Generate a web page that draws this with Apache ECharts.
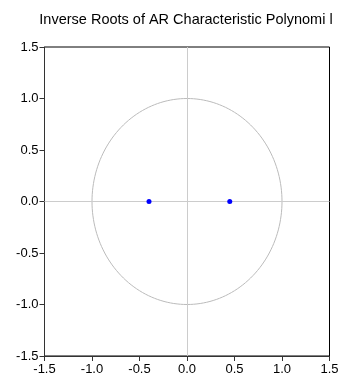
<!DOCTYPE html>
<html>
<head>
<meta charset="utf-8">
<script src="https://cdn.jsdelivr.net/npm/echarts@6/dist/echarts.min.js"></script>
<style>
  html, body {margin: 0; padding: 0; background: #fff;}
  #chart {width: 344px; height: 384px;}
</style>
</head>
<body>
<div id="chart"></div>
<script>
const titleText = 'Inverse Roots of AR Characteristic Polynomi l'
const rootsRe = [-0.40, 0.45]
const rootsIm = [0, 0]
const axisTicks = [-1.5, -1.0, -0.5, 0.0, 0.5, 1.0, 1.5]

// unit circle for reference
const circle = []
for (let i = 0; i <= 180; i++) {
  const a = i / 180 * Math.PI * 2
  circle.push([Math.cos(a), Math.sin(a)])
}

const labelStyle = {
  fontFamily: 'Liberation Sans',
  fontSize: 13,
  color: '#000',
  formatter: v => v.toFixed(1),
}

const chart = echarts.init(document.getElementById('chart'))
chart.setOption({
  animation: false,
  title: {
    text: titleText,
    left: 181,
    textAlign: 'center',
    top: 7,
    textStyle: {fontFamily: 'Liberation Sans', fontSize: 14.5, fontWeight: 'normal', color: '#000'},
  },
  grid: {left: 44.5, right: 14.5, top: 47, bottom: 28, show: true, borderColor: '#000', borderWidth: 1},
  xAxis: {
    type: 'value', min: axisTicks[0], max: axisTicks[axisTicks.length - 1], interval: 0.5,
    axisLine: {show: true, onZero: false, lineStyle: {color: '#333'}},
    axisTick: {show: true, length: 5, lineStyle: {color: '#333'}},
    axisLabel: Object.assign({margin: 7}, labelStyle),
    splitLine: {show: false},
  },
  yAxis: {
    type: 'value', min: axisTicks[0], max: axisTicks[axisTicks.length - 1], interval: 0.5,
    axisLine: {show: true, onZero: false, lineStyle: {color: '#333'}},
    axisTick: {show: true, length: 5, lineStyle: {color: '#333'}},
    axisLabel: Object.assign({margin: 6}, labelStyle),
    splitLine: {show: false},
  },
  series: [
    {
      type: 'line',
      data: circle,
      showSymbol: false,
      lineStyle: {color: '#bbb', width: 1},
      silent: true,
      markLine: {
        symbol: 'none',
        silent: true,
        label: {show: false},
        lineStyle: {color: '#ccc', width: 1, type: 'solid'},
        data: [{xAxis: 0}, {yAxis: 0}],
      },
    },
    {
      type: 'scatter',
      data: rootsRe.map((r, i) => [r, rootsIm[i]]),
      symbolSize: 5,
      z: 10,
      itemStyle: {color: '#0000ff', opacity: 1},
    },
  ],
})
</script>
</body>
</html>
